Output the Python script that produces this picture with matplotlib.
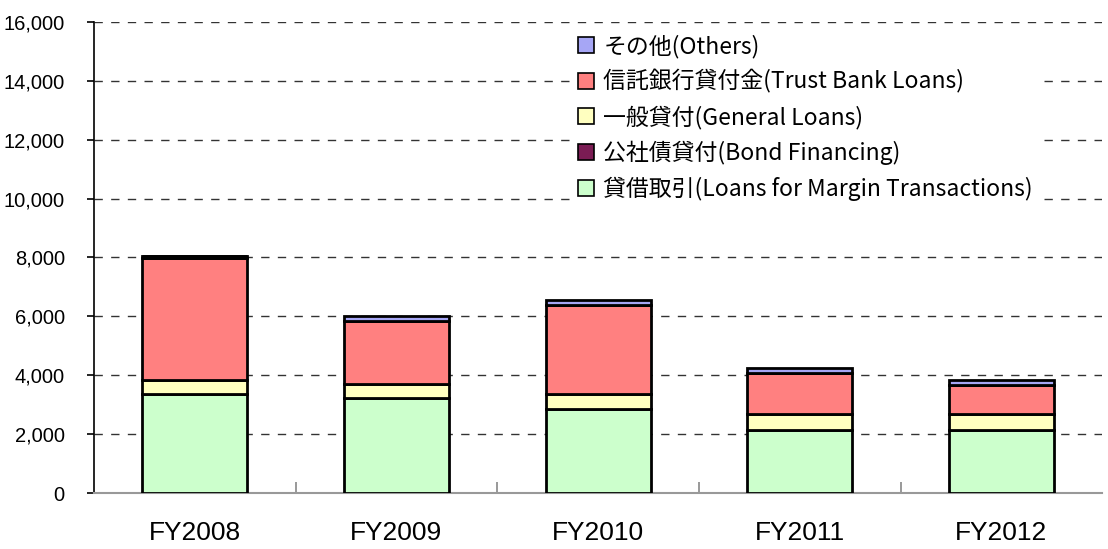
import matplotlib.pyplot as plt
import numpy as np

plt.rcParams['font.family'] = ['Liberation Sans', 'Noto Sans CJK JP', 'DejaVu Sans']

# Data
years = ['FY2008', 'FY2009', 'FY2010', 'FY2011', 'FY2012']
margin = [3350, 3220, 2870, 2130, 2130]
general = [490, 475, 490, 545, 545]
trust = [4130, 2160, 3040, 1410, 1005]
bond = [70, 0, 0, 0, 0]
others = [0, 160, 160, 160, 160]

# stacking order, bottom to top
labels = ['貸借取引(Loans for Margin Transactions)', '一般貸付(General Loans)',
          '信託銀行貸付金(Trust Bank Loans)', '公社債貸付(Bond Financing)', 'その他(Others)']
colors = ['#CCFFCC', '#FFFFC0', '#FF8080', '#7B1C54', '#A6A6F5']
series = [margin, general, trust, bond, others]

fig = plt.figure(figsize=(11.08, 5.49), dpi=100)
ax = fig.add_axes([0.0848, 0.102, 0.910, 0.858])

x = np.arange(len(years))
bottom = np.zeros(len(years))
handles = {}
for vals, lab, col in zip(series, labels, colors):
    vals = np.array(vals, dtype=float)
    b = ax.bar(x, vals, 0.52, bottom=bottom, color=col, edgecolor='black',
               linewidth=2, label=lab, zorder=3)
    handles[lab] = b
    bottom += vals

ax.set_xlim(-0.5, len(years) - 0.5)
ax.set_ylim(0, 16000)
ax.set_yticks(range(0, 16001, 2000))
ax.set_yticklabels([f'{v:,}' for v in range(0, 16001, 2000)], fontsize=14.5)
ax.yaxis.grid(True, linestyle=(0, (6, 6)), color='#333333', linewidth=1)
ax.set_axisbelow(True)

# category boundaries as small ticks, labels at centers
ax.set_xticks(np.arange(0.5, len(years) - 0.5, 1))
ax.set_xticklabels([])
ax.tick_params(axis='x', which='major', direction='in', length=8, color='#888888', width=1.2)
ax.set_xticks(x, minor=True)
ax.set_xticklabels(years, minor=True, fontsize=19)
ax.tick_params(axis='x', which='minor', length=0, pad=20)
ax.tick_params(axis='y', direction='out', length=5, width=1.2, pad=16)

for s in ['top', 'right']:
    ax.spines[s].set_visible(False)
ax.spines['bottom'].set_color('#999999')
ax.spines['bottom'].set_linewidth(1.5)
ax.spines['left'].set_linewidth(1.2)

leg_order = ['その他(Others)', '信託銀行貸付金(Trust Bank Loans)', '一般貸付(General Loans)',
             '公社債貸付(Bond Financing)', '貸借取引(Loans for Margin Transactions)']
leg = ax.legend([handles[k] for k in leg_order], leg_order, loc='upper left',
                bbox_to_anchor=(0.462, 1.012), frameon=True, facecolor='white',
                edgecolor='none', framealpha=1, fancybox=False,
                handlelength=0.7, handleheight=0.7, handletextpad=0.4,
                labelspacing=0.5, borderpad=0.3,
                prop={'family': ['Noto Sans CJK JP', 'DejaVu Sans'], 'size': 16.5})
for h in leg.legend_handles:
    h.set_linewidth(1.2)

plt.savefig('out.png', dpi=100)
